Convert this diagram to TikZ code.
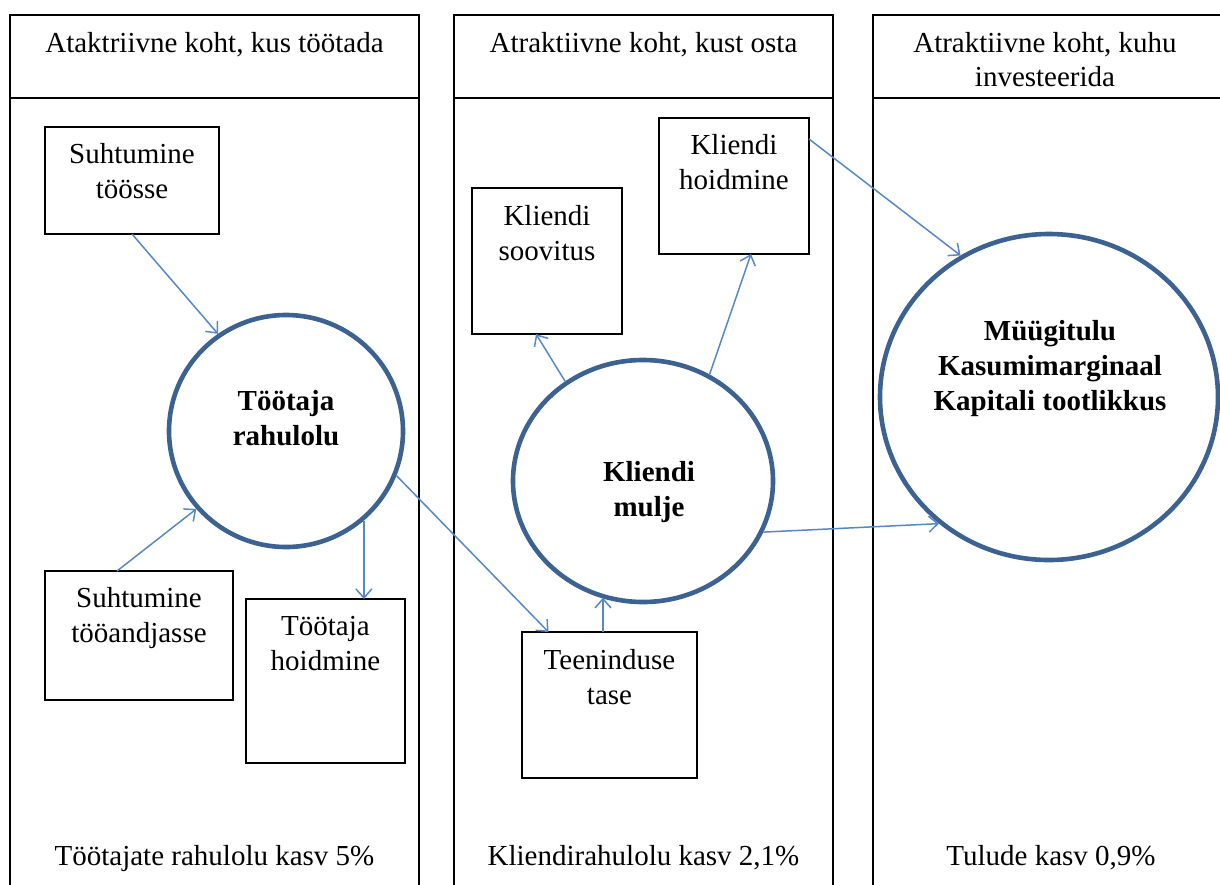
\documentclass[tikz,border=0pt]{standalone}
\usepackage{fontspec}
\setmainfont{Liberation Serif}
\usetikzlibrary{arrows.meta,shapes.geometric}
\definecolor{ringblue}{RGB}{59,98,145}
\definecolor{arrowblue}{RGB}{86,136,200}
\begin{document}
\begin{tikzpicture}[x=1pt,y=-1pt,
  colframe/.style={draw=black, line width=1.5pt},
  stepbox/.style={draw=black, line width=1.4pt, rectangle, inner sep=0pt, outer sep=0pt},
  ring/.style={draw=ringblue, line width=4.6pt, ellipse, inner sep=0pt},
  txt/.style={font=\fontsize{29}{35}\selectfont, align=center, inner sep=0pt},
  htxt/.style={font=\fontsize{29}{34}\selectfont, align=center, inner sep=0pt},
  btxt/.style={font=\fontsize{29}{35}\selectfont\bfseries, align=center, inner sep=0pt},
  arr/.style={draw=arrowblue, line width=1.5pt, -{Straight Barb[length=9pt,width=16pt]}},
]
\useasboundingbox[fill=white] (0,0) rectangle (1220,884);

% column frames
\draw[colframe] (10,900) -- (10,15) -- (419,15) -- (419,900);
\draw[colframe] (10,98) -- (419,98);
\draw[colframe] (454,900) -- (454,15) -- (833,15) -- (833,900);
\draw[colframe] (454,98) -- (833,98);
\draw[colframe] (873,900) -- (873,15) -- (1240,15);
\draw[colframe] (873,98) -- (1240,98);

% headers
\node[htxt, anchor=north] (h1) at (214.5,31) {\rule{0pt}{21pt}Ataktriivne koht, kus töötada};
\node[htxt, anchor=north] (h2) at (643.5,31) {\rule{0pt}{21pt}Atraktiivne koht, kust osta};
\node[htxt, anchor=north] (h3) at (1045,31) {\rule{0pt}{21pt}Atraktiivne koht, kuhu\\investeerida};

% footers
\node[txt, anchor=base] (f1) at (214.5,865) {Töötajate rahulolu kasv 5\%};
\node[txt, anchor=base] (f2) at (643.5,865) {Kliendirahulolu kasv 2,1\%};
\node[txt, anchor=base] (f3) at (1051,865) {Tulude kasv 0,9\%};

% boxes
\node[stepbox, minimum width=174pt, minimum height=107pt] (b1) at (132,180.5) {};
\node[stepbox, minimum width=188pt, minimum height=129pt] (b2) at (139,635.5) {};
\node[stepbox, minimum width=159pt, minimum height=164pt] (b3) at (325.5,681) {};
\node[stepbox, minimum width=150pt, minimum height=146pt] (b4) at (547,261) {};
\node[stepbox, minimum width=150pt, minimum height=136pt] (b5) at (734,186) {};
\node[stepbox, minimum width=175pt, minimum height=146pt] (b6) at (609.5,705) {};

\node[txt, anchor=north] (t1) at ([yshift=-15pt]b1.north) {\rule{0pt}{21pt}Suhtumine\\töösse};
\node[txt, anchor=north] (t2) at ([yshift=-15pt]b2.north) {\rule{0pt}{21pt}Suhtumine\\tööandjasse};
\node[txt, anchor=north] (t3) at ([yshift=-15pt]b3.north) {\rule{0pt}{21pt}Töötaja\\hoidmine};
\node[txt, anchor=north] (t4) at ([yshift=-16pt]b4.north) {\rule{0pt}{21pt}Kliendi\\soovitus};
\node[txt, anchor=north] (t5) at ([yshift=-15pt]b5.north) {\rule{0pt}{21pt}Kliendi\\hoidmine};
\node[txt, anchor=north] (t6) at ([yshift=-16pt]b6.north) {\rule{0pt}{21pt}Teeninduse\\tase};

% rings
\node[ring, minimum width=234pt, minimum height=232pt] (c1) at (286,431) {};
\node[ring, minimum width=260pt, minimum height=242pt] (c2) at (643,481) {};
\node[ring, minimum width=338pt, minimum height=326pt] (c3) at (1049,397) {};

\node[btxt] (r1) at (286,418) {Töötaja\\rahulolu};
\node[btxt] (r2) at (649,492) {Kliendi\\mulje};
\node[btxt] (r3) at (1050,369) {Müügitulu\\Kasumimarginaal\\Kapitali tootlikkus};

% connectors
\draw[arr] (b1.south) -- (c1.125);
\draw[arr] ([xshift=-22pt]b2.north) -- (c1.221);
\coordinate (p3) at (c1.-49);
\draw[arr] (p3) -- (p3 |- b3.north);
\draw[arr] (c1.-22) -- ([xshift=-61pt]b6.north);
\coordinate (p5) at ([xshift=-6.5pt]b6.north);
\draw[arr] (p5) -- (p5 |- c2.250);
\draw[arr] (c2.128) -- ([xshift=-11pt]b4.south);
\draw[arr] (c2.58) -- ([xshift=17pt]b5.south);
\draw[arr] ([yshift=47pt]b5.east) -- (c3.122);
\draw[arr] (c2.-23) -- (c3.229);
\end{tikzpicture}
\end{document}
